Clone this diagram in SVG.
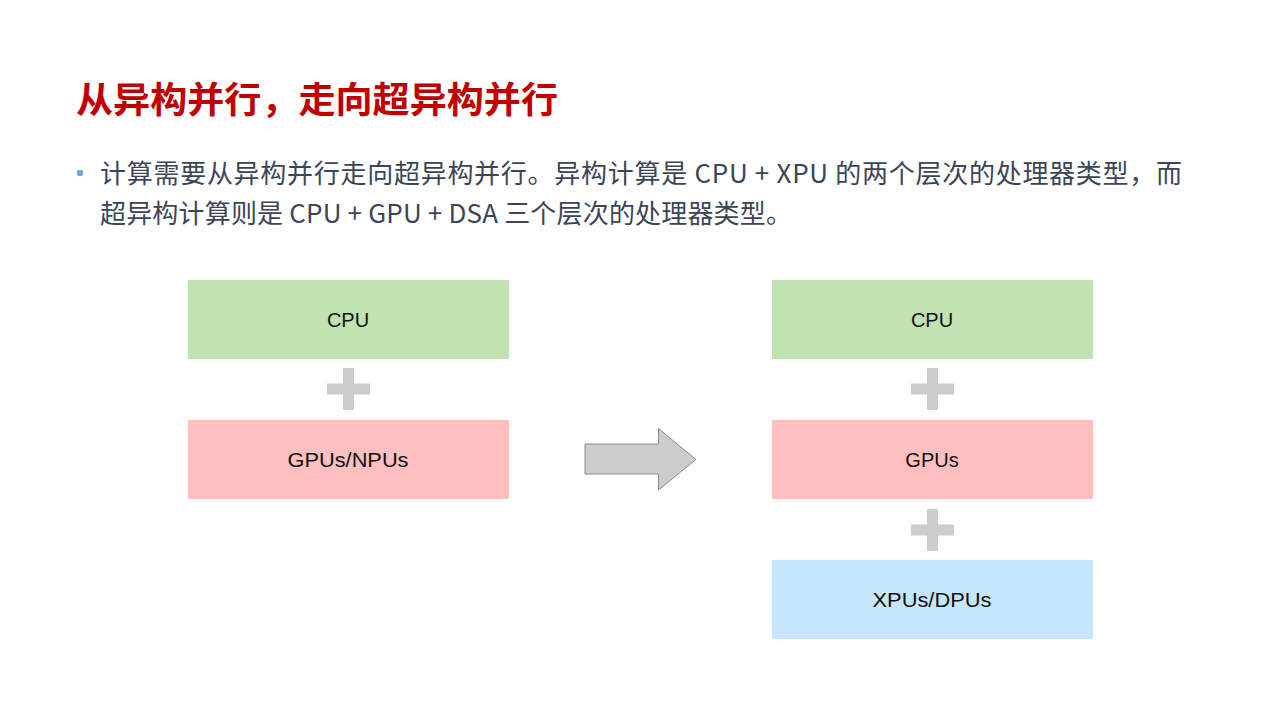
<svg xmlns="http://www.w3.org/2000/svg" width="1280" height="720" viewBox="0 0 1280 720">
<defs>
<style>
.title{font-family:"Noto Sans CJK SC","Noto Sans",sans-serif;font-weight:700;font-size:36px;fill:#c00000}
.body{font-family:"Noto Sans CJK SC","Noto Sans",sans-serif;font-size:26px;fill:#3b4556}
.lbl{font-family:"Liberation Sans",Arial,sans-serif;font-size:20px;fill:#111111;text-anchor:middle}
.green{fill:#c1e2b1}
.pink{fill:#ffbfbf}
.blue{fill:#c6e6fd}
.plus{fill:#cccccc}
</style>
<g id="plusShape">
<rect x="-21.5" y="-5.5" width="43" height="11"/>
<rect x="-5.5" y="-21" width="11" height="42"/>
</g>
</defs>
<rect width="1280" height="720" fill="#ffffff"/>
<text class="title" x="76" y="113" textLength="482" lengthAdjust="spacingAndGlyphs">从异构并行，走向超异构并行</text>
<circle cx="80" cy="173" r="3.2" fill="#6fa8e0"/>
<text class="body" x="100" y="183" textLength="1082" lengthAdjust="spacing">计算需要从异构并行走向超异构并行。异构计算是 CPU + XPU 的两个层次的处理器类型，而</text>
<text class="body" x="100" y="223" textLength="692" lengthAdjust="spacing">超异构计算则是 CPU + GPU + DSA 三个层次的处理器类型。</text>

<g id="left-cpu"><rect class="green" x="188" y="280" width="321" height="79"/><text class="lbl" x="348" y="327">CPU</text></g>
<g id="left-gpu"><rect class="pink" x="188" y="420" width="321" height="79"/><text class="lbl" x="348" y="467" textLength="121" lengthAdjust="spacingAndGlyphs">GPUs/NPUs</text></g>
<g id="right-cpu"><rect class="green" x="772" y="280" width="321" height="79"/><text class="lbl" x="932" y="327">CPU</text></g>
<g id="right-gpu"><rect class="pink" x="772" y="420" width="321" height="79"/><text class="lbl" x="932" y="467">GPUs</text></g>
<g id="right-xpu"><rect class="blue" x="772" y="560" width="321" height="79"/><text class="lbl" x="932" y="607" textLength="119" lengthAdjust="spacingAndGlyphs">XPUs/DPUs</text></g>

<g id="connectors">
<use href="#plusShape" class="plus" x="348.5" y="389"/>
<use href="#plusShape" class="plus" x="932.5" y="389"/>
<use href="#plusShape" class="plus" x="932.5" y="530"/>
<path d="M585,444 L658.5,444 L658.5,428.5 L696,459.5 L658.5,490 L658.5,474 L585,474 Z" fill="#cccccc" stroke="#8c8c8c" stroke-width="1"/>
</g>
</svg>
